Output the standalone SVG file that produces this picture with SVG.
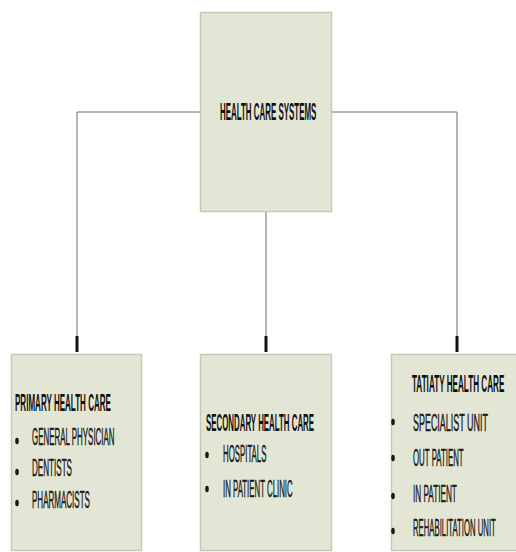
<svg xmlns="http://www.w3.org/2000/svg" width="516" height="552" viewBox="0 0 516 552">
<style>
.box{fill:#e3e6d4;stroke:#c6c9b8;stroke-width:1.5}
.line{fill:none;stroke:#6e6e6e;stroke-width:1}
.h{font-family:"Liberation Sans",Arial,sans-serif;font-size:23px;font-weight:bold;fill:#111}
.t{font-family:"Liberation Sans",Arial,sans-serif;font-size:23px;fill:#1c1c1c;stroke:#1c1c1c;stroke-width:0.5}
.b{fill:#1a1a1a}
</style>
<defs>
<marker id="tip" markerWidth="4" markerHeight="17" refX="2" refY="16" orient="0" markerUnits="userSpaceOnUse" viewBox="0 0 4 17">
<rect x="0.5" y="0" width="3" height="16" fill="#111"/>
</marker>
</defs>
<rect width="516" height="552" fill="#ffffff"/>
<g id="connectors">
<path class="line" d="M200 112 H77 V352" marker-end="url(#tip)"/>
<path class="line" d="M332 112 H457 V352" marker-end="url(#tip)"/>
<path class="line" d="M266 212 V352" marker-end="url(#tip)"/>
</g>
<g id="health-care-systems">
<rect class="box" x="200.5" y="12.5" width="131" height="199"/>
<text class="h" transform="translate(220 120) scale(0.345 1)">HEALTH CARE SYSTEMS</text>
</g>
<g id="primary">
<rect class="box" x="11.5" y="354.5" width="130" height="196"/>
<text class="h" transform="translate(15 411) scale(0.350 1)">PRIMARY HEALTH CARE</text>
<ellipse class="b" cx="17" cy="441" rx="1.8" ry="3.2"/>
<text class="t" transform="translate(32 445) scale(0.345 1)">GENERAL PHYSICIAN</text>
<ellipse class="b" cx="17" cy="472" rx="1.8" ry="3.2"/>
<text class="t" transform="translate(32 476) scale(0.352 1)">DENTISTS</text>
<ellipse class="b" cx="17" cy="503" rx="1.8" ry="3.2"/>
<text class="t" transform="translate(32 508) scale(0.349 1)">PHARMACISTS</text>
</g>
<g id="secondary">
<rect class="box" x="200.5" y="354.5" width="131" height="196"/>
<text class="h" transform="translate(206 431) scale(0.343 1)">SECONDARY HEALTH CARE</text>
<ellipse class="b" cx="207" cy="455" rx="1.8" ry="3.2"/>
<text class="t" transform="translate(223 462) scale(0.341 1)">HOSPITALS</text>
<ellipse class="b" cx="207" cy="489" rx="1.8" ry="3.2"/>
<text class="t" transform="translate(223 497) scale(0.341 1)">IN PATIENT CLINIC</text>
</g>
<g id="tertiary">
<rect class="box" x="391.5" y="354.5" width="131" height="196"/>
<text class="h" transform="translate(412 392) scale(0.354 1)">TATIATY HEALTH CARE</text>
<ellipse class="b" cx="393" cy="422" rx="1.8" ry="3.2"/>
<text class="t" transform="translate(413 431) scale(0.389 1)">SPECIALIST UNIT</text>
<ellipse class="b" cx="393" cy="458" rx="1.8" ry="3.2"/>
<text class="t" transform="translate(413 466) scale(0.342 1)">OUT PATIENT</text>
<ellipse class="b" cx="393" cy="496" rx="1.8" ry="3.2"/>
<text class="t" transform="translate(413 502) scale(0.356 1)">IN PATIENT</text>
<ellipse class="b" cx="393" cy="531" rx="1.8" ry="3.2"/>
<text class="t" transform="translate(413 536) scale(0.337 1)">REHABILITATION UNIT</text>
</g>
</svg>
